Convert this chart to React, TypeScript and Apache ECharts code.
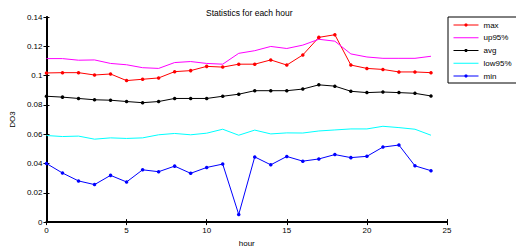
import React, { useEffect, useRef } from "react";
import * as echarts from "echarts";

const hours = [0, 1, 2, 3, 4, 5, 6, 7, 8, 9, 10, 11, 12, 13, 14, 15, 16, 17, 18, 19, 20, 21, 22, 23, 24];
const maxValues = [0.1018, 0.102, 0.102, 0.1004, 0.1011, 0.0966, 0.0975, 0.0984, 0.1027, 0.1034, 0.1063, 0.1058, 0.1078, 0.1078, 0.1107, 0.1072, 0.1141, 0.1261, 0.1279, 0.1072, 0.1049, 0.1042, 0.1025, 0.1025, 0.102];
const up95Values = [0.1116, 0.1116, 0.1105, 0.1107, 0.1083, 0.1074, 0.1054, 0.1049, 0.1089, 0.1096, 0.1083, 0.1078, 0.1152, 0.117, 0.1199, 0.1185, 0.1208, 0.1248, 0.1235, 0.1148, 0.1127, 0.1118, 0.1118, 0.1118, 0.1132];
const avgValues = [0.0859, 0.0853, 0.0844, 0.0835, 0.0832, 0.0823, 0.0815, 0.0823, 0.0844, 0.0844, 0.0844, 0.0859, 0.0873, 0.0897, 0.0897, 0.0897, 0.0908, 0.0937, 0.0928, 0.0893, 0.0884, 0.0888, 0.0884, 0.0879, 0.0861];
const low95Values = [0.0591, 0.0584, 0.0587, 0.0566, 0.0575, 0.0571, 0.0575, 0.0596, 0.0605, 0.0596, 0.0607, 0.0634, 0.0593, 0.0628, 0.0602, 0.0609, 0.0608, 0.0622, 0.0629, 0.0636, 0.0636, 0.0654, 0.0645, 0.0634, 0.0593];
const minValues = [0.04, 0.0335, 0.0281, 0.0256, 0.0319, 0.0274, 0.0357, 0.0344, 0.0382, 0.0333, 0.0373, 0.0396, 0.0052, 0.0445, 0.0391, 0.0448, 0.0416, 0.0431, 0.0461, 0.044, 0.0449, 0.0512, 0.0526, 0.0384, 0.0351];

const seriesNames = ["max", "up95%", "avg", "low95%", "min"];
const seriesColors = ["#ff0000", "#ff00ff", "#000000", "#00ffff", "#0000ff"];
const seriesMarkers = [true, false, true, false, true];
const seriesValues = [maxValues, up95Values, avgValues, low95Values, minValues];

const FONT = "Liberation Sans, Arial, sans-serif";

export default function App() {
  const ref = useRef<HTMLDivElement>(null);
  useEffect(() => {
    if (!ref.current) return;
    const chart = echarts.init(ref.current, undefined, { renderer: "svg" });
    const axisCommon = {
      type: "value" as const,
      splitLine: { show: false },
      axisLine: { show: true, lineStyle: { color: "#000", width: 1.5 } },
      axisTick: { show: true, inside: true, length: 3, lineStyle: { color: "#000", width: 1 } },
    };
    chart.setOption({
      animation: false,
      backgroundColor: "#fff",
      textStyle: { fontFamily: FONT },
      title: {
        text: "Statistics for each hour",
        left: 201,
        top: 3,
        textStyle: { fontSize: 8.5, fontWeight: "normal", color: "#000", fontFamily: FONT },
      },
      grid: { left: 42, right: 69, top: 17, bottom: 28, containLabel: false },
      legend: {
        orient: "vertical",
        left: 448,
        top: 17,
        data: seriesNames.map((name, i) =>
          seriesMarkers[i]
            ? { name }
            : { name, itemStyle: { opacity: 0 } }
        ),
        borderColor: "#000",
        borderWidth: 1,
        backgroundColor: "#fff",
        padding: [4, 5, 3, 5],
        itemWidth: 25,
        itemHeight: 4,
        itemGap: 4.75,
        itemStyle: { borderWidth: 0 },
        lineStyle: { width: 1 },
        textStyle: { fontSize: 8, color: "#000", fontFamily: FONT, lineHeight: 7 },
      },
      xAxis: [
        {
          ...axisCommon,
          min: 0,
          max: 25,
          interval: 5,
          position: "bottom",
          axisLine: { show: true, lineStyle: { color: "#000", width: 2 } },
          axisLabel: { fontSize: 8, color: "#000", margin: 4, fontFamily: FONT },
          name: "hour",
          nameLocation: "middle",
          nameGap: 15,
          nameTextStyle: { fontSize: 8, color: "#000", fontFamily: FONT },
        },
        {
          ...axisCommon,
          min: 0,
          max: 25,
          interval: 5,
          position: "top",
          axisLabel: { show: false },
        },
      ],
      yAxis: [
        {
          ...axisCommon,
          min: 0,
          max: 0.14,
          interval: 0.02,
          position: "left",
          axisLine: { show: true, lineStyle: { color: "#000", width: 2 } },
          axisLabel: { fontSize: 8, color: "#000", margin: 4, fontFamily: FONT },
          name: "DO3",
          nameLocation: "middle",
          nameGap: 26,
          nameTextStyle: { fontSize: 8, color: "#000", fontFamily: FONT },
        },
        {
          ...axisCommon,
          min: 0,
          max: 0.14,
          interval: 0.02,
          position: "right",
          axisLabel: { show: false },
        },
      ],
      series: seriesNames.map((name, i) => ({
        name,
        type: "line",
        xAxisIndex: 0,
        yAxisIndex: 0,
        data: hours.map((h, j) => [h, seriesValues[i][j]]),
        symbol: seriesMarkers[i] ? "circle" : "none",
        symbolSize: 3.5,
        showSymbol: seriesMarkers[i],
        lineStyle: { color: seriesColors[i], width: 1 },
        itemStyle: { color: seriesColors[i], borderWidth: 0 },
        emphasis: { disabled: true },
      })),
    });
    return () => chart.dispose();
  }, []);
  return (
    <div
      ref={ref}
      style={{ position: "fixed", left: 0, top: 0, width: 516, height: 252, background: "#fff" }}
    />
  );
}
